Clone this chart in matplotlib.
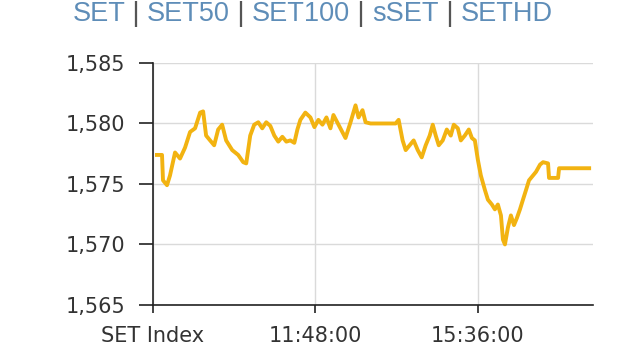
import matplotlib
matplotlib.use("Agg")
import matplotlib.pyplot as plt
from matplotlib.ticker import FuncFormatter

# minutes after 08:00 and SET index level
minutes = [5.6, 12.7, 14.1, 19.7, 23.9, 31.0, 38.0, 45.0, 52.1, 59.1, 66.2, 70.4,
           74.6, 80.2, 85.9, 91.5, 97.1, 102.7, 111.2, 119.6, 126.7, 130.9, 136.5,
           142.1, 147.8, 153.4, 159.0, 164.7, 170.3, 175.9, 181.6, 187.2, 192.8,
           198.4, 202.7, 206.9, 213.9, 221.0, 226.6, 232.2, 237.9, 243.5, 249.1,
           253.3, 260.4, 270.2, 277.3, 284.3, 288.5, 294.1, 298.4, 305.4, 340.6,
           344.8, 350.4, 354.7, 360.3, 365.9, 371.6, 377.2, 382.8, 388.4, 392.7,
           396.9, 401.1, 406.7, 412.4, 418.0, 422.2, 427.9, 432.1, 437.7, 443.3,
           447.6, 451.8, 456.0, 460.2, 465.9, 470.1, 475.7, 479.9, 484.1, 488.4,
           491.2, 494.0, 498.2, 502.4, 506.7, 510.9, 515.1, 519.3, 523.6, 527.8,
           533.4, 537.6, 543.3, 547.5, 554.5, 555.9, 568.6, 570.0, 612.2]
level = [1577.4, 1577.4, 1575.3, 1574.9, 1575.7, 1577.6, 1577.1, 1578.0, 1579.3,
         1579.6, 1580.9, 1581.0, 1579.0, 1578.6, 1578.2, 1579.5, 1579.9, 1578.6,
         1577.8, 1577.4, 1576.8, 1576.7, 1579.0, 1579.9, 1580.1, 1579.6, 1580.1,
         1579.8, 1579.0, 1578.5, 1578.9, 1578.5, 1578.6, 1578.4, 1579.5, 1580.3,
         1580.9, 1580.5, 1579.7, 1580.3, 1579.9, 1580.5, 1579.6, 1580.7, 1579.9,
         1578.8, 1580.1, 1581.5, 1580.5, 1581.1, 1580.1, 1580.0, 1580.0, 1580.3,
         1578.6, 1577.8, 1578.2, 1578.6, 1577.8, 1577.2, 1578.2, 1579.0, 1579.9,
         1579.0, 1578.2, 1578.6, 1579.5, 1579.0, 1579.9, 1579.6, 1578.6, 1579.0,
         1579.5, 1578.8, 1578.6, 1577.0, 1575.7, 1574.5, 1573.7, 1573.3, 1572.9,
         1573.3, 1572.4, 1570.4, 1570.0, 1571.4, 1572.4, 1571.6, 1572.2, 1572.9,
         1573.7, 1574.5, 1575.3, 1575.7, 1576.0, 1576.6, 1576.8, 1576.7, 1575.5,
         1575.5, 1576.3, 1576.3]

tick_minutes = [0, 228, 456]
tick_labels = ["SET Index", "11:48:00", "15:36:00"]
y_ticks = [1565, 1570, 1575, 1580, 1585]

title_parts = ["SET", "SET50", "SET100", "sSET", "SETHD"]

fig = plt.figure(figsize=(6.4, 3.6), dpi=100)
ax = fig.add_axes([0.239, 0.153, 0.688, 0.672])

ax.plot(minutes, level, color="#F2B311", linewidth=2.8, solid_joinstyle="round")

ax.set_xlim(0, 618)
ax.set_ylim(1565, 1585)
ax.set_xticks(tick_minutes)
ax.set_xticklabels(tick_labels)
ax.set_yticks(y_ticks)
ax.yaxis.set_major_formatter(FuncFormatter(lambda v, _: f"{v:,.0f}"))

ax.grid(True, color="#dadada", linewidth=1)
ax.set_axisbelow(True)
for side in ("top", "right"):
    ax.spines[side].set_visible(False)
for side in ("left", "bottom"):
    ax.spines[side].set_color("#222222")
    ax.spines[side].set_linewidth(1.2)

ax.tick_params(axis="both", colors="#222222", width=1.2,
               labelsize=15, labelcolor="#333333")
ax.tick_params(axis="x", length=6, pad=9)
ax.tick_params(axis="y", length=10, pad=10)

# link-style header above the chart
x = 0.113
for i, part in enumerate(title_parts):
    t = fig.text(x, 0.962, part, color="#5E8DB8", fontsize=19.5,
                 family="Liberation Sans", va="center", ha="left")
    fig.canvas.draw()
    bb = t.get_window_extent()
    x = bb.x1 / fig.bbox.width
    if i < len(title_parts) - 1:
        s = fig.text(x, 0.962, " | ", color="#555555", fontsize=19.5,
                     family="Liberation Sans", va="center", ha="left")
        fig.canvas.draw()
        x = s.get_window_extent().x1 / fig.bbox.width

fig.savefig("out.png", dpi=100)
